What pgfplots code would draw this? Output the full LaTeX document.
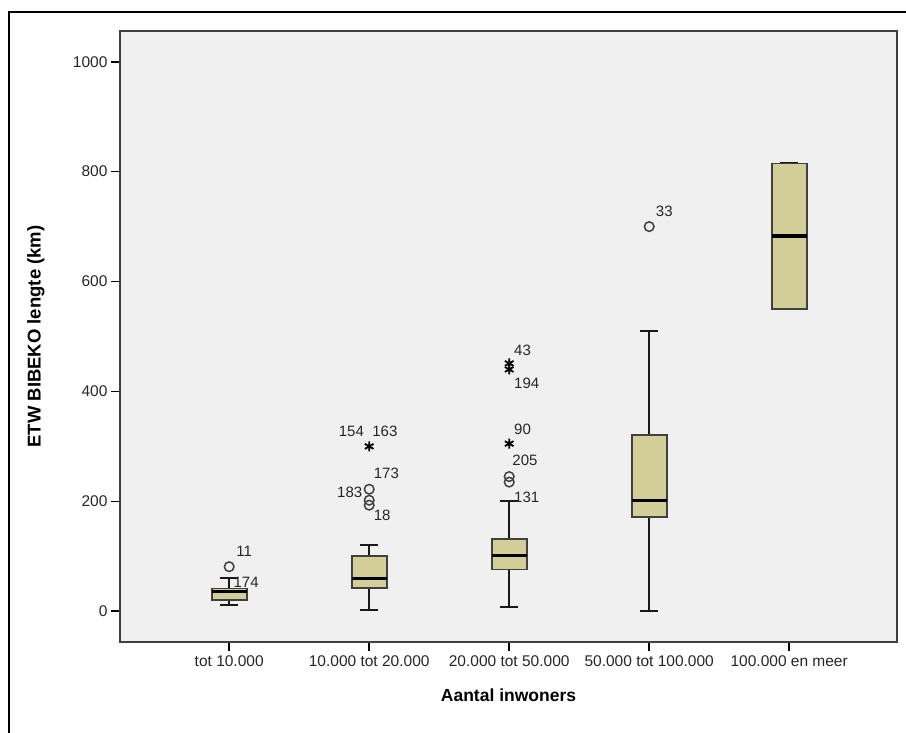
\documentclass[border=0pt]{standalone}
\usepackage{pgfplots}
\pgfplotsset{compat=1.18}
\usepgfplotslibrary{statistics}
\usepackage{fontspec}
\setmainfont{Liberation Sans}
\definecolor{boxfill}{RGB}{211,206,151}
\definecolor{plotbg}{RGB}{240,240,240}
\newcommand{\tfont}{\fontsize{15.5}{18}\selectfont}
\newcommand{\cfont}{\fontsize{15}{18}\selectfont}
\newcommand{\xlfont}{\fontsize{17.5}{20}\selectfont\bfseries}
\newcommand{\ylfont}{\fontsize{18.5}{21}\selectfont\bfseries}
\begin{document}
\begin{tikzpicture}
\useasboundingbox (0pt,0pt) rectangle (906pt,733pt);
\draw[line width=2.5pt] (9pt,-2pt) -- (9pt,721pt) -- (908pt,721pt);
\begin{axis}[
  at={(120pt,91pt)}, anchor=south west,
  scale only axis, width=777pt, height=611pt,
  xmin=-0.78, xmax=4.77, ymin=-56, ymax=1056,
  axis background/.style={fill=plotbg},
  axis line style={black!75, line width=1.6pt},
  tick style={black, line width=1.5pt},
  tick align=outside, major tick length=9pt,
  xtick pos=bottom, ytick pos=left,
  xtick={0,1,2,3,4},
  xticklabels={tot 10.000,10.000 tot 20.000,20.000 tot 50.000,50.000 tot 100.000,100.000 en meer},
  ytick={0,200,400,600,800,1000},
  yticklabels={0,200,400,600,800,1000},
  ticklabel style={font=\tfont, text=black!85},
  xticklabel style={yshift=-1pt},
  xlabel={Aantal inwoners},
  ylabel={ETW BIBEKO lengte (km)},
  every axis x label/.style={at={(axis description cs:0.5,0)}, yshift=-53pt, anchor=center, font=\xlfont},
  every axis y label/.style={at={(axis description cs:0,0.5)}, xshift=-84pt, rotate=90, anchor=center, font=\ylfont},
  boxplot/draw direction=y,
  boxplot/box extend=0.25,
  boxplot/whisker extend=0.125,
  boxplot/every box/.style={draw=black!75, line width=1.6pt, fill=boxfill},
  boxplot/every whisker/.style={black!90, line width=2pt},
  boxplot/every median/.style={black, line width=3.2pt},
  clip=false,
]
\addplot+[mark=none, boxplot prepared={draw position=0, lower whisker=12, lower quartile=20, median=36, upper quartile=41, upper whisker=60}] coordinates {};
\addplot+[mark=none, boxplot prepared={draw position=1, lower whisker=3, lower quartile=42, median=59, upper quartile=100, upper whisker=120}] coordinates {};
\addplot+[mark=none, boxplot prepared={draw position=2, lower whisker=8, lower quartile=76, median=101, upper quartile=131, upper whisker=200}] coordinates {};
\addplot+[mark=none, boxplot prepared={draw position=3, lower whisker=0, lower quartile=171, median=201, upper quartile=321, upper whisker=510}] coordinates {};
\addplot+[mark=none, boxplot prepared={draw position=4, lower whisker=550, lower quartile=550, median=683, upper quartile=815, upper whisker=815}] coordinates {};
% outliers (circles)
\addplot[only marks, mark=o, mark size=4.8pt, draw=black!75, line width=1.5pt] coordinates {
  (0,81) (1,222) (1,202) (1,193) (2,245) (2,235) (3,700)};
% extreme values (stars)
\addplot[only marks, mark=asterisk, mark size=5pt, draw=black, line width=1.8pt] coordinates {
  (1,300) (2,451) (2,440) (2,305)};
% case labels
\begin{scope}[every node/.style={font=\cfont, anchor=west, inner sep=0pt, text=black!85}]
\node at (axis cs:0.05,109) {11};
\node at (axis cs:0.03,53) {174};
\node at (axis cs:0.782,327) {154};
\node at (axis cs:1.021,327) {163};
\node at (axis cs:1.032,251) {173};
\node at (axis cs:0.770,217) {183};
\node at (axis cs:1.032,175) {18};
\node at (axis cs:2.034,474) {43};
\node at (axis cs:2.034,415) {194};
\node at (axis cs:2.034,331) {90};
\node at (axis cs:2.022,275) {205};
\node at (axis cs:2.034,208) {131};
\node at (axis cs:3.047,727) {33};
\end{scope}
\end{axis}
\end{tikzpicture}
\end{document}
